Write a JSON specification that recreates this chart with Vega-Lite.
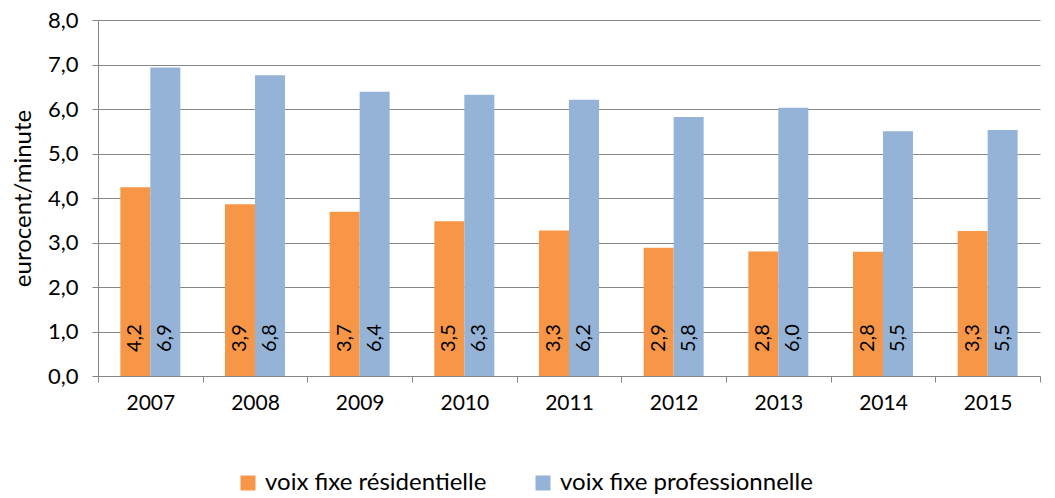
{
  "$schema": "https://vega.github.io/schema/vega-lite/v6.json",
  "width": 942,
  "height": 356,
  "autosize": {"type": "none"},
  "padding": {"left": 98, "top": 20, "right": 15, "bottom": 122},
  "background": "white",
  "config": {
    "locale": {"number": {"decimal": ",", "thousands": " ", "grouping": [3], "currency": ["", " €"]}},
    "font": "Lato",
    "view": {"stroke": null}
  },
  "data": {
    "values": [
      {"annee": "2007", "serie": "voix fixe résidentielle", "valeur": 4.24},
      {"annee": "2007", "serie": "voix fixe professionnelle", "valeur": 6.93},
      {"annee": "2008", "serie": "voix fixe résidentielle", "valeur": 3.86},
      {"annee": "2008", "serie": "voix fixe professionnelle", "valeur": 6.76},
      {"annee": "2009", "serie": "voix fixe résidentielle", "valeur": 3.69},
      {"annee": "2009", "serie": "voix fixe professionnelle", "valeur": 6.39},
      {"annee": "2010", "serie": "voix fixe résidentielle", "valeur": 3.48},
      {"annee": "2010", "serie": "voix fixe professionnelle", "valeur": 6.32},
      {"annee": "2011", "serie": "voix fixe résidentielle", "valeur": 3.27},
      {"annee": "2011", "serie": "voix fixe professionnelle", "valeur": 6.21},
      {"annee": "2012", "serie": "voix fixe résidentielle", "valeur": 2.88},
      {"annee": "2012", "serie": "voix fixe professionnelle", "valeur": 5.82},
      {"annee": "2013", "serie": "voix fixe résidentielle", "valeur": 2.8},
      {"annee": "2013", "serie": "voix fixe professionnelle", "valeur": 6.03},
      {"annee": "2014", "serie": "voix fixe résidentielle", "valeur": 2.79},
      {"annee": "2014", "serie": "voix fixe professionnelle", "valeur": 5.5},
      {"annee": "2015", "serie": "voix fixe résidentielle", "valeur": 3.26},
      {"annee": "2015", "serie": "voix fixe professionnelle", "valeur": 5.53}
    ]
  },
  "encoding": {
    "x": {
      "field": "annee", "type": "nominal",
      "scale": {"paddingInner": 0, "paddingOuter": 0},
      "axis": {
        "title": null, "labelAngle": 0, "tickBand": "extent",
        "domainColor": "#868686", "tickColor": "#868686", "tickSize": 6,
        "labelFontSize": 21, "labelColor": "#000000", "labelPadding": 10, "grid": false
      }
    },
    "xOffset": {
      "field": "serie", "type": "nominal",
      "sort": ["voix fixe résidentielle", "voix fixe professionnelle"],
      "scale": {"paddingInner": 0, "paddingOuter": 0.745}
    }
  },
  "layer": [
    {
      "mark": {"type": "bar"},
      "encoding": {
        "y": {
          "field": "valeur", "type": "quantitative",
          "scale": {"domain": [0, 8], "nice": false},
          "axis": {
            "title": "eurocent/minute", "titleFontSize": 24, "titleFontWeight": "normal", "titleColor": "#000000", "titlePadding": 12,
            "format": ".1f", "values": [0, 1, 2, 3, 4, 5, 6, 7, 8], "labelOverlap": false,
            "labelFontSize": 22, "labelColor": "#000000", "labelPadding": 14,
            "domainColor": "#868686", "tickColor": "#868686", "tickSize": 6,
            "gridColor": "#868686", "gridWidth": 1
          }
        },
        "color": {
          "field": "serie", "type": "nominal",
          "sort": ["voix fixe résidentielle", "voix fixe professionnelle"],
          "scale": {"domain": ["voix fixe résidentielle", "voix fixe professionnelle"], "range": ["#F79646", "#95B3D7"]},
          "legend": {
            "title": null, "orient": "none", "direction": "horizontal",
            "legendX": 138, "legendY": 451, "labelLimit": 0,
            "symbolType": "square", "symbolSize": 225, "symbolStrokeWidth": 0,
            "labelFontSize": 24, "labelColor": "#000000", "columnPadding": 44, "labelOffset": 5
          }
        }
      }
    },
    {
      "mark": {"type": "text", "angle": 270, "align": "left", "baseline": "middle", "dx": 24, "fontSize": 20, "color": "#000000"},
      "encoding": {
        "y": {"datum": 0, "type": "quantitative"},
        "text": {"field": "valeur", "type": "quantitative", "format": ".1f"}
      }
    }
  ]
}
